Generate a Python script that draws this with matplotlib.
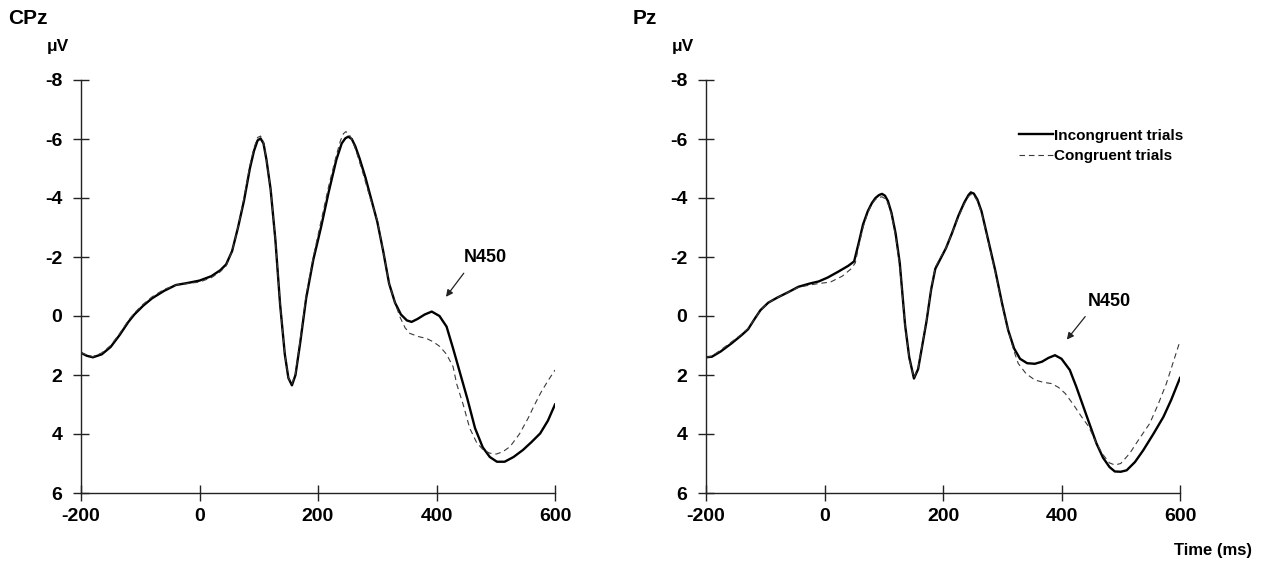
import matplotlib
matplotlib.use("Agg")
import matplotlib.pyplot as plt
from matplotlib.lines import Line2D

plt.rcParams['axes.unicode_minus'] = False
plt.rcParams['font.family'] = ['Liberation Sans', 'DejaVu Sans']

# CPz - incongruent (solid)
cpz_inc_t = [-200, -190, -180, -165, -150, -135, -120, -110, -95, -80, -60, -40, -20, 0,
             20, 35, 45, 55, 65, 75, 85, 92, 98, 103, 108, 113, 120, 128, 136, 144, 150, 156, 162,
             170, 180, 192, 205, 218, 231, 240, 246, 251, 257, 263, 270, 280, 290, 300, 310, 320,
             330, 340, 350, 358, 368, 380, 392, 405, 417, 428, 440, 452, 465, 478, 490,
             502, 515, 530, 546, 560, 575, 588, 600]
cpz_inc_v = [1.25, 1.35, 1.40, 1.30, 1.05, 0.65, 0.2, -0.05, -0.35, -0.6, -0.85, -1.05, -1.12, -1.2,
             -1.35, -1.55, -1.75, -2.2, -3.0, -3.9, -5.0, -5.6, -5.95, -6.02, -5.85, -5.3, -4.3, -2.6, -0.4, 1.3, 2.1, 2.35, 2.0,
             0.9, -0.6, -1.9, -3.0, -4.2, -5.3, -5.85, -6.02, -6.08, -6.0, -5.75, -5.35, -4.7, -3.95, -3.2, -2.2, -1.1,
             -0.45, -0.05, 0.15, 0.2, 0.1, -0.05, -0.15, 0.0, 0.36, 1.1, 1.95, 2.8, 3.8, 4.45, 4.78,
             4.94, 4.94, 4.78, 4.54, 4.28, 3.98, 3.55, 3.0]

# CPz - congruent (dashed)
cpz_con_t = [-200, -190, -180, -165, -150, -135, -120, -110, -95, -80, -60, -40, -20, 0,
             20, 35, 45, 55, 65, 75, 85, 92, 98, 103, 108, 113, 120, 128, 136, 144, 150, 156, 162,
             170, 180, 192, 205, 218, 231, 238, 243, 247, 252, 258, 265, 275, 288, 300, 310, 320,
             330, 338, 347, 355, 370, 383, 395, 406, 417, 428, 434, 445, 456, 468, 479, 490,
             501, 512, 524, 540, 555, 564, 576, 588, 600]
cpz_con_v = [1.25, 1.32, 1.38, 1.25, 1.0, 0.6, 0.15, -0.1, -0.4, -0.65, -0.9, -1.05, -1.1, -1.15,
             -1.3, -1.5, -1.7, -2.2, -3.0, -4.0, -5.1, -5.7, -6.05, -6.1, -5.9, -5.3, -4.3, -2.6, -0.4, 1.3, 2.1, 2.3, 1.95,
             0.8, -0.7, -2.0, -3.2, -4.4, -5.45, -5.95, -6.18, -6.25, -6.18, -5.95, -5.55, -4.9, -4.0, -3.25, -2.2, -1.1,
             -0.45, 0.02, 0.4, 0.59, 0.7, 0.76, 0.88, 1.04, 1.3, 1.72, 2.3, 3.0, 3.8, 4.3, 4.54, 4.65,
             4.68, 4.6, 4.43, 4.0, 3.45, 3.07, 2.6, 2.2, 1.83]

# Pz - incongruent (solid)
pz_inc_t = [-200, -190, -175, -157, -140, -129, -118, -108, -95, -80, -60, -44, -25, -10,
            5, 23, 40, 50, 58, 65, 73, 80, 86, 92, 97, 102, 107, 113, 120, 127, 136, 143, 151, 158,
            165, 172, 180, 187, 196, 205, 215, 226, 236, 243, 247, 252, 258, 265, 276, 288, 300, 310,
            320, 330, 342, 355, 367, 378, 389, 400, 414, 425, 437, 448, 459, 470, 481, 490,
            500, 510, 524, 538, 555, 572, 585, 600]
pz_inc_v = [1.4, 1.38, 1.2, 0.93, 0.65, 0.45, 0.1, -0.2, -0.45, -0.62, -0.82, -0.99, -1.1, -1.17,
            -1.3, -1.5, -1.7, -1.85, -2.5, -3.1, -3.55, -3.83, -4.0, -4.1, -4.14, -4.08, -3.9, -3.5, -2.8, -1.8, 0.3, 1.4, 2.12, 1.8,
            1.0, 0.2, -0.9, -1.6, -1.95, -2.3, -2.8, -3.4, -3.85, -4.1, -4.19, -4.15, -3.95, -3.55, -2.6, -1.56, -0.4, 0.48,
            1.1, 1.45, 1.6, 1.62, 1.55, 1.42, 1.33, 1.45, 1.83, 2.4, 3.08, 3.7, 4.32, 4.8, 5.12, 5.27,
            5.28, 5.23, 4.95, 4.55, 4.0, 3.42, 2.85, 2.1]

# Pz - congruent (dashed)
pz_con_t = [-200, -190, -175, -157, -140, -129, -118, -108, -95, -80, -60, -44, -25, -10,
            10, 30, 45, 52, 58, 65, 73, 80, 86, 92, 97, 102, 107, 113, 120, 127, 136, 143, 151, 158,
            165, 172, 180, 187, 196, 205, 215, 226, 236, 243, 247, 252, 258, 265, 276, 288, 300, 310,
            320, 327, 340, 355, 370, 383, 395, 406, 420, 434, 446, 459, 470, 481, 490,
            500, 515, 530, 549, 563, 577, 588, 600]
pz_con_v = [1.4, 1.36, 1.15, 0.88, 0.62, 0.42, 0.1, -0.2, -0.45, -0.62, -0.82, -0.97, -1.05, -1.1,
            -1.15, -1.35, -1.6, -1.8, -2.4, -3.0, -3.5, -3.8, -3.95, -4.02, -4.04, -3.98, -3.82, -3.45, -2.7, -1.7, 0.35, 1.45, 2.1, 1.75,
            0.95, 0.15, -0.95, -1.65, -2.0, -2.3, -2.8, -3.35, -3.8, -4.05, -4.12, -4.08, -3.9, -3.5, -2.55, -1.5, -0.35, 0.5,
            1.2, 1.61, 1.95, 2.17, 2.25, 2.29, 2.42, 2.62, 3.0, 3.42, 3.75, 4.32, 4.7, 4.98, 5.05,
            5.0, 4.66, 4.2, 3.64, 3.0, 2.29, 1.6, 0.85]

y_ticks = [-8, -6, -4, -2, 0, 2, 4, 6]
x_ticks = [-200, 0, 200, 400, 600]

W, H = 1261, 562
fig = plt.figure(figsize=(W / 100, H / 100), dpi=100)

panels = [
    ("CPz", 81, cpz_inc_t, cpz_inc_v, cpz_con_t, cpz_con_v, (482, -2.0), (416, -0.65), (446, -1.45)),
    ("Pz", 706, pz_inc_t, pz_inc_v, pz_con_t, pz_con_v, (480, -0.48), (409, 0.8), (440, 0.02)),
]

axes = []
for name, x0, it, iv, ct, cv, txt_pos, head, tail in panels:
    ax = fig.add_axes([x0 / W, 1 - 493 / H, 474 / W, 413 / H])
    ax.patch.set_alpha(0)
    ax.plot(it, iv, color='black', lw=1.7, solid_joinstyle='round')
    ax.plot(ct, cv, color='#3a3a3a', lw=0.8, dashes=(5, 3.5))
    ax.set_xlim(-200, 600)
    ax.set_ylim(6, -8)
    ax.set_xticks(x_ticks)
    ax.set_yticks(y_ticks)
    ax.set_xticklabels([str(t) for t in x_ticks])
    ax.set_yticklabels([str(t) for t in y_ticks])
    for s in ['top', 'right']:
        ax.spines[s].set_visible(False)
    for s in ['left', 'bottom']:
        ax.spines[s].set_linewidth(1.0)
        ax.spines[s].set_color('#222222')
    ax.tick_params(axis='y', direction='inout', length=11, width=1.0, pad=8,
                   labelsize=14, colors='#222222')
    ax.tick_params(axis='x', direction='inout', length=12, width=1.0, pad=5,
                   labelsize=14, colors='#222222')
    for lab in ax.get_xticklabels() + ax.get_yticklabels():
        lab.set_fontweight('bold')
        lab.set_color('black')
    ax.text(txt_pos[0], txt_pos[1], "N450", ha='center', va='center',
            fontsize=13, fontweight='bold')
    ax.annotate("", xy=head, xytext=tail,
                arrowprops=dict(arrowstyle='-|>', color='#222222', lw=0.9,
                                mutation_scale=10, shrinkA=0, shrinkB=0))
    fig.text((x0 - 73) / W, 1 - 19 / H, name, ha='left', va='center',
             fontsize=15, fontweight='bold')
    fig.text((x0 - 34) / W, 1 - 47 / H, "μV", ha='left', va='center',
             fontsize=12.5, fontweight='bold')
    axes.append(ax)

handles = [Line2D([], [], color='black', lw=1.7),
           Line2D([], [], color='#3a3a3a', lw=0.8, dashes=(5, 3.5))]
axes[1].legend(handles, ["Incongruent trials", "Congruent trials"],
               loc='center left', bbox_to_anchor=(1019 / W, 1 - 146 / H),
               bbox_transform=fig.transFigure, frameon=False,
               handlelength=2.2, handletextpad=0.1, labelspacing=0.45,
               borderpad=0, borderaxespad=0,
               prop={'weight': 'bold', 'size': 11})

fig.text(1213 / W, 1 - 550 / H, "Time (ms)", ha='center', va='center',
         fontsize=12, fontweight='bold')

fig.savefig("out.png", dpi=100)
